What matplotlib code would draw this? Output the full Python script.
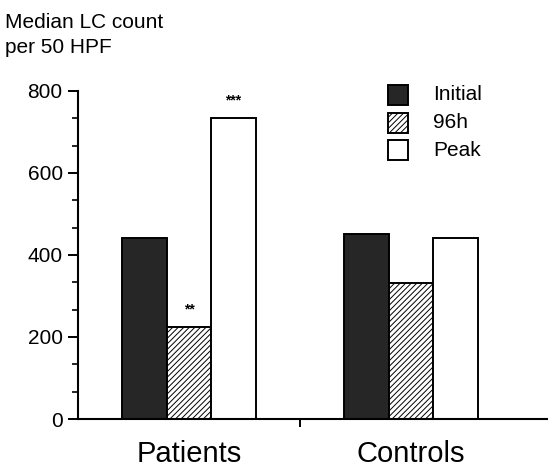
import matplotlib
matplotlib.use("Agg")
import matplotlib.pyplot as plt
from matplotlib.patches import Rectangle
from matplotlib.ticker import MultipleLocator

plt.rcParams['font.family'] = ['Liberation Sans', 'DejaVu Sans']
plt.rcParams['hatch.linewidth'] = 0.7

groups = ["Patients", "Controls"]
series = ["Initial", "96h", "Peak"]
initial = [441, 451]
h96 = [224, 332]
peak = [734, 441]
stars = {("Patients", "96h"): "**", ("Patients", "Peak"): "***"}

fig = plt.figure(figsize=(5.48, 4.68), dpi=100)
ax = fig.add_axes([0.1423, 0.1047, 0.8577, 0.7009])

w = 0.2
styles = {
    "Initial": dict(facecolor="#262626", hatch=None),
    "96h": dict(facecolor="white", hatch="//////"),
    "Peak": dict(facecolor="white", hatch=None),
}
vals = {"Initial": initial, "96h": h96, "Peak": peak}
for k, s in enumerate(series):
    xs = [i + (k - 1) * w for i in range(len(groups))]
    ax.bar(xs, vals[s], width=w, edgecolor="black", linewidth=1.4,
           facecolor=styles[s]["facecolor"], hatch=styles[s]["hatch"],
           zorder=2)
    for i, g in enumerate(groups):
        if (g, s) in stars:
            ax.text(xs[i], vals[s][i] + 25, stars[(g, s)], ha="center",
                    va="bottom", fontsize=10, fontweight="bold")

ax.set_xlim(-0.5, 1.617)
ax.set_ylim(0, 800)
ax.spines["top"].set_visible(False)
ax.spines["right"].set_visible(False)
ax.spines["left"].set_linewidth(1.5)
ax.spines["bottom"].set_linewidth(1.5)

ax.yaxis.set_major_locator(MultipleLocator(200))
ax.yaxis.set_minor_locator(MultipleLocator(200 / 3))
ax.tick_params(axis="y", which="major", length=7, width=1.4, labelsize=15, pad=4)
ax.tick_params(axis="y", which="minor", length=4, width=1.2)

ax.set_xticks([0, 1])
ax.set_xticklabels(groups, fontsize=21)
ax.tick_params(axis="x", which="major", length=0, pad=15)
ax.set_xticks([0.5], minor=True)
ax.tick_params(axis="x", which="minor", length=6, width=1.4, direction="out")

fig.text(0.01, 1 - 13 / 468, "Median LC count\nper 50 HPF", ha="left", va="top",
         fontsize=15, linespacing=1.4)

# legend drawn as boxes + text in figure coordinates
leg_y = [95, 123, 150]
for s, y in zip(series, leg_y):
    x0, sz = 388 / 548, 20
    r = Rectangle((x0, 1 - (y + sz / 2) / 468), sz / 548, sz / 468,
                  transform=fig.transFigure, facecolor=styles[s]["facecolor"],
                  hatch=styles[s]["hatch"], edgecolor="black", linewidth=1.4)
    fig.patches.append(r)
    fig.text(433 / 548, 1 - y / 468, s, ha="left", va="center", fontsize=15)

fig.savefig("out.png", dpi=100, facecolor="white")
